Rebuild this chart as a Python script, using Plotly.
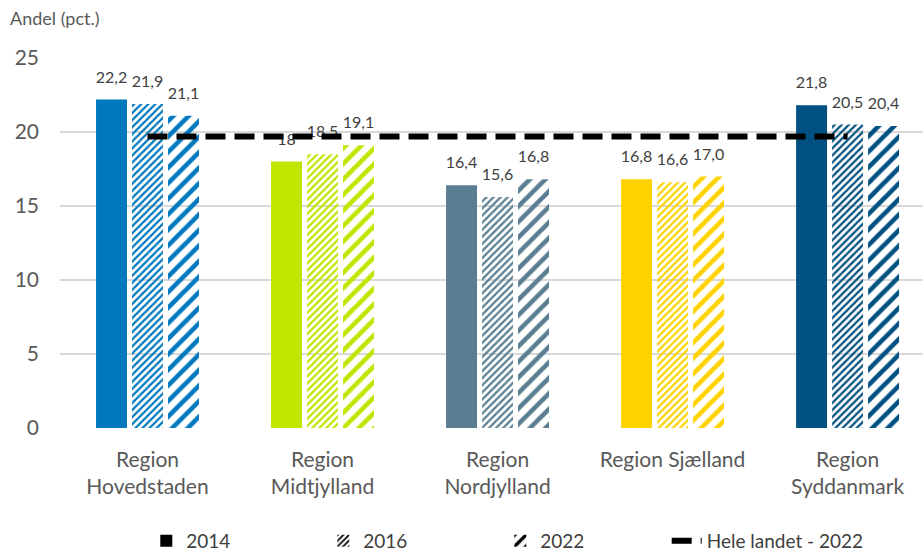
import plotly.graph_objects as go

# Categories and data
regions = [
    "Region<br>Hovedstaden",
    "Region<br>Midtjylland",
    "Region<br>Nordjylland",
    "Region Sjælland",
    "Region<br>Syddanmark",
]
years = ["2014", "2016", "2022"]
labels_2014 = ["22,2", "18", "16,4", "16,8", "21,8"]
labels_2016 = ["21,9", "18,5", "15,6", "16,6", "20,5"]
labels_2022 = ["21,1", "19,1", "16,8", "17,0", "20,4"]
hele_landet_2022 = 19.7
y_ticks = [0, 5, 10, 15, 20, 25]

region_colors = ["#0078BE", "#BEE600", "#5A7D91", "#FFD200", "#005082"]

# stripe styles per year: (shape, size, solidity)
patterns = {
    "2014": ("", 8, 0.3),
    "2016": ("/", 5, 0.45),
    "2022": ("/", 11, 0.42),
}


def to_values(labels):
    return [float(s.replace(",", ".")) for s in labels]


year_labels = {"2014": labels_2014, "2016": labels_2016, "2022": labels_2022}

FONT = "Lato, 'Open Sans', sans-serif"
TICK_COLOR = "#595959"
LABEL_COLOR = "#404040"
BARGAP = 0.383

fig = go.Figure()

for year in years:
    labels = year_labels[year]
    values = to_values(labels)
    shape, size, solidity = patterns[year]
    fig.add_trace(go.Bar(
        x=regions, y=values, name=year, offsetgroup=year, alignmentgroup="bars",
        marker=dict(
            color=region_colors, line=dict(width=0),
            pattern=dict(shape=shape, size=size, solidity=solidity,
                         fgcolor=region_colors, bgcolor="white", fillmode="replace"),
        ),
        showlegend=False, hoverinfo="skip",
    ))
    # legend entry in black
    fig.add_trace(go.Bar(
        x=[None], y=[None], name=year, offsetgroup=year, alignmentgroup="bars",
        marker=dict(
            color="black", line=dict(width=0),
            pattern=dict(shape=shape, size=size, solidity=solidity,
                         fgcolor="black", bgcolor="white", fillmode="replace"),
        ),
        showlegend=True, legend="legend", hoverinfo="skip",
    ))

# value labels above each bar
for year in years:
    labels = year_labels[year]
    values = to_values(labels)
    fig.add_trace(go.Scatter(
        x=regions, y=values, text=labels, mode="markers+text",
        offsetgroup=year, alignmentgroup="bars",
        marker=dict(size=19, color="rgba(0,0,0,0)"),
        textposition="top center",
        textfont=dict(family=FONT, size=16, color=LABEL_COLOR),
        cliponaxis=False, showlegend=False, hoverinfo="skip",
    ))

# national level line
fig.add_trace(go.Scatter(
    x=regions, y=[hele_landet_2022] * len(regions), mode="lines",
    name="Hele landet - 2022", offsetgroup="line", alignmentgroup="line",
    line=dict(color="black", width=6, dash="20px,9px"),
    legend="legend2", hoverinfo="skip",
))

fig.add_annotation(
    text="Andel (pct.)", xref="paper", yref="paper", x=-0.06, y=1.108,
    xanchor="left", yanchor="middle", showarrow=False,
    font=dict(family=FONT, size=18, color=TICK_COLOR),
)

legend_font = dict(family=FONT, size=19, color=LABEL_COLOR)

fig.update_layout(
    width=923, height=556,
    margin=dict(l=60, r=0, t=58, b=128, autoexpand=False),
    paper_bgcolor="white", plot_bgcolor="white",
    barmode="group", bargap=BARGAP, bargroupgap=0.14,
    scattermode="group", scattergap=BARGAP,
    font=dict(family=FONT, color=TICK_COLOR),
    xaxis=dict(
        type="category", range=[-0.5, 4.431], showgrid=False, showline=False,
        ticks="", tickfont=dict(family=FONT, size=21, color=TICK_COLOR),
        ticklabelstandoff=17,
    ),
    yaxis=dict(
        range=[0, 25], tickvals=y_ticks, showgrid=True, gridcolor="#D9D9D9",
        gridwidth=1.5, zeroline=False, showline=False, ticks="",
        tickfont=dict(family=FONT, size=21, color=TICK_COLOR),
        ticklabelstandoff=20,
    ),
    legend=dict(
        orientation="h", x=0.1, xanchor="left", y=-0.305, yanchor="middle",
        font=legend_font, traceorder="normal", entrywidth=132,
    ),
    legend2=dict(
        orientation="h", x=0.703, xanchor="left", y=-0.305, yanchor="middle",
        font=legend_font,
    ),
)

fig.write_html("out.html")
